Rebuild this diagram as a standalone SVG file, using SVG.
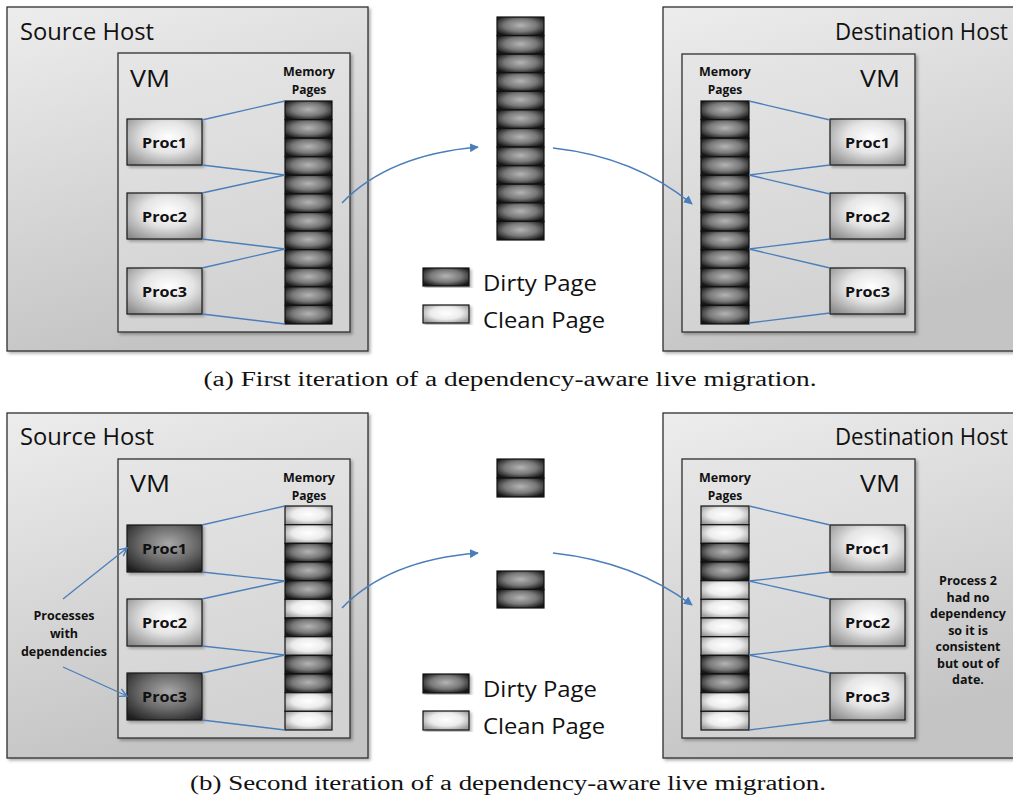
<svg xmlns="http://www.w3.org/2000/svg" width="1013" height="800" viewBox="0 0 1013 800">
<defs>
  <linearGradient id="gHost" x1="0" y1="0" x2="0.3" y2="1">
    <stop offset="0" stop-color="#ededed"/>
    <stop offset="1" stop-color="#c4c4c4"/>
  </linearGradient>
  <linearGradient id="gVm" x1="0" y1="0" x2="0.2" y2="1">
    <stop offset="0" stop-color="#e6e6e6"/>
    <stop offset="1" stop-color="#d2d2d2"/>
  </linearGradient>
  <radialGradient id="gProcL" cx="0.55" cy="0.4" r="0.75">
    <stop offset="0" stop-color="#ffffff"/>
    <stop offset="0.45" stop-color="#e4e4e4"/>
    <stop offset="1" stop-color="#8a8a8a"/>
  </radialGradient>
  <radialGradient id="gProcD" cx="0.55" cy="0.4" r="0.75">
    <stop offset="0" stop-color="#a8a8a8"/>
    <stop offset="0.5" stop-color="#6a6a6a"/>
    <stop offset="1" stop-color="#1c1c1c"/>
  </radialGradient>
  <radialGradient id="gDirty" cx="0.5" cy="0.45" r="0.62">
    <stop offset="0" stop-color="#b4b4b4"/>
    <stop offset="0.55" stop-color="#787878"/>
    <stop offset="1" stop-color="#161616"/>
  </radialGradient>
  <radialGradient id="gClean" cx="0.5" cy="0.45" r="0.62">
    <stop offset="0" stop-color="#ffffff"/>
    <stop offset="0.55" stop-color="#ececec"/>
    <stop offset="1" stop-color="#9c9c9c"/>
  </radialGradient>
  <filter id="sh" x="-5%" y="-5%" width="115%" height="115%">
    <feDropShadow dx="2" dy="2" stdDeviation="1.5" flood-color="#000" flood-opacity="0.3"/>
  </filter>
  <marker id="aFill" viewBox="0 0 10 10" refX="9" refY="5" markerWidth="9" markerHeight="9" markerUnits="userSpaceOnUse" orient="auto">
    <path d="M0,0 L10,5 L0,10 Z" fill="#4a7ebb"/>
  </marker>
  <marker id="aOpen" viewBox="0 0 10 10" refX="9" refY="5" markerWidth="10" markerHeight="10" markerUnits="userSpaceOnUse" orient="auto">
    <path d="M1,1 L9,5 L1,9" fill="none" stroke="#4a7ebb" stroke-width="1.4"/>
  </marker>
</defs>
<style>
  .host{fill:url(#gHost);stroke:#2e2e2e;stroke-width:1.3;filter:url(#sh)}
  .vm{fill:url(#gVm);stroke:#2e2e2e;stroke-width:1.3;filter:url(#sh)}
  .pl{fill:url(#gProcL);stroke:#1a1a1a;stroke-width:1.2;filter:url(#sh)}
  .pd{fill:url(#gProcD);stroke:#1a1a1a;stroke-width:1.2;filter:url(#sh)}
  .d{fill:url(#gDirty);stroke:#111;stroke-width:1.2}
  .c{fill:url(#gClean);stroke:#111;stroke-width:1.2}
  .htxt{font-family:'Open Sans','Liberation Sans',sans-serif;font-size:24px;fill:#111}
  .vmtxt{font-family:'Open Sans','Liberation Sans',sans-serif;font-size:23px;fill:#111}
  .mem{font-family:'Open Sans','Liberation Sans',sans-serif;font-size:12px;font-weight:bold;fill:#111;text-anchor:middle}
  .ptxt{font-family:'Open Sans','Liberation Sans',sans-serif;font-size:15px;font-weight:bold;fill:#111;text-anchor:middle}
  .lg{font-family:'Open Sans','Liberation Sans',sans-serif;font-size:22px;fill:#111}
  .dep{font-family:'Open Sans','Liberation Sans',sans-serif;font-size:12.5px;font-weight:bold;fill:#111;text-anchor:middle}
  .note{font-family:'Open Sans','Liberation Sans',sans-serif;font-size:12.5px;font-weight:bold;fill:#111;text-anchor:middle}
  .cap{font-family:'Liberation Serif','DejaVu Serif',serif;font-size:20px;fill:#111;text-anchor:middle}
  .ln{stroke:#4a7ebb;stroke-width:1.3;fill:none}
  .arr{stroke:#4a7ebb;stroke-width:1.5;fill:none;marker-end:url(#aFill)}
  .arrO{stroke:#4a7ebb;stroke-width:1.3;fill:none;marker-end:url(#aOpen)}
</style>

<!-- ===== Panel (a) ===== -->
<g id="a-source-host">
  <rect class="host" x="7" y="7" width="361" height="344"/>
  <text class="htxt" x="20" y="40" textLength="134" lengthAdjust="spacingAndGlyphs">Source Host</text>
</g>
<g id="a-source-vm">
  <rect class="vm" x="118" y="53" width="232" height="279"/>
  <text class="vmtxt" x="130" y="87" textLength="40" lengthAdjust="spacingAndGlyphs">VM</text>
  <text class="mem" x="309" y="76" textLength="52" lengthAdjust="spacingAndGlyphs">Memory</text>
  <text class="mem" x="309" y="94">Pages</text>
</g>
<g id="a-source-pages">
  <rect class="d" x="285" y="101" width="47" height="18.6"/>
  <rect class="d" x="285" y="119.6" width="47" height="18.6"/>
  <rect class="d" x="285" y="138.2" width="47" height="18.6"/>
  <rect class="d" x="285" y="156.7" width="47" height="18.6"/>
  <rect class="d" x="285" y="175.3" width="47" height="18.6"/>
  <rect class="d" x="285" y="193.9" width="47" height="18.6"/>
  <rect class="d" x="285" y="212.5" width="47" height="18.6"/>
  <rect class="d" x="285" y="231.1" width="47" height="18.6"/>
  <rect class="d" x="285" y="249.7" width="47" height="18.6"/>
  <rect class="d" x="285" y="268.2" width="47" height="18.6"/>
  <rect class="d" x="285" y="286.8" width="47" height="18.6"/>
  <rect class="d" x="285" y="305.4" width="47" height="18.6"/>
</g>
<g id="a-src-proc1"><rect class="pl" x="127" y="119" width="75" height="46"/><text class="ptxt" x="164.5" y="147.5" textLength="45" lengthAdjust="spacingAndGlyphs">Proc1</text></g>
<g id="a-src-proc2"><rect class="pl" x="127" y="193" width="75" height="46"/><text class="ptxt" x="164.5" y="221.5" textLength="45" lengthAdjust="spacingAndGlyphs">Proc2</text></g>
<g id="a-src-proc3"><rect class="pl" x="127" y="268" width="75" height="46"/><text class="ptxt" x="164.5" y="296.5" textLength="45" lengthAdjust="spacingAndGlyphs">Proc3</text></g>

<g id="a-transit-pages">
  <rect class="d" x="497" y="17" width="47" height="18.6"/>
  <rect class="d" x="497" y="35.6" width="47" height="18.6"/>
  <rect class="d" x="497" y="54.2" width="47" height="18.6"/>
  <rect class="d" x="497" y="72.7" width="47" height="18.6"/>
  <rect class="d" x="497" y="91.3" width="47" height="18.6"/>
  <rect class="d" x="497" y="109.9" width="47" height="18.6"/>
  <rect class="d" x="497" y="128.5" width="47" height="18.6"/>
  <rect class="d" x="497" y="147.1" width="47" height="18.6"/>
  <rect class="d" x="497" y="165.7" width="47" height="18.6"/>
  <rect class="d" x="497" y="184.2" width="47" height="18.6"/>
  <rect class="d" x="497" y="202.8" width="47" height="18.6"/>
  <rect class="d" x="497" y="221.4" width="47" height="18.6"/>
</g>
<g id="a-legend">
  <rect class="d" x="423" y="268" width="46" height="18" filter="url(#sh)"/>
  <text class="lg" x="483" y="291" textLength="114" lengthAdjust="spacingAndGlyphs">Dirty Page</text>
  <rect class="c" x="423" y="305" width="46" height="18" filter="url(#sh)"/>
  <text class="lg" x="483" y="328" textLength="122" lengthAdjust="spacingAndGlyphs">Clean Page</text>
</g>

<g id="a-dest-host">
  <rect class="host" x="663" y="7" width="360" height="344"/>
  <text class="htxt" x="1008" y="40" text-anchor="end" textLength="173" lengthAdjust="spacingAndGlyphs">Destination Host</text>
</g>
<g id="a-dest-vm">
  <rect class="vm" x="682" y="54" width="233" height="278"/>
  <text class="vmtxt" x="900" y="87" text-anchor="end" textLength="40" lengthAdjust="spacingAndGlyphs">VM</text>
  <text class="mem" x="725" y="76" textLength="52" lengthAdjust="spacingAndGlyphs">Memory</text>
  <text class="mem" x="725" y="94">Pages</text>
</g>
<g id="a-dest-pages">
  <rect class="d" x="701" y="101" width="48" height="18.6"/>
  <rect class="d" x="701" y="119.6" width="48" height="18.6"/>
  <rect class="d" x="701" y="138.2" width="48" height="18.6"/>
  <rect class="d" x="701" y="156.7" width="48" height="18.6"/>
  <rect class="d" x="701" y="175.3" width="48" height="18.6"/>
  <rect class="d" x="701" y="193.9" width="48" height="18.6"/>
  <rect class="d" x="701" y="212.5" width="48" height="18.6"/>
  <rect class="d" x="701" y="231.1" width="48" height="18.6"/>
  <rect class="d" x="701" y="249.7" width="48" height="18.6"/>
  <rect class="d" x="701" y="268.2" width="48" height="18.6"/>
  <rect class="d" x="701" y="286.8" width="48" height="18.6"/>
  <rect class="d" x="701" y="305.4" width="48" height="18.6"/>
</g>
<g id="a-dst-proc1"><rect class="pl" x="830" y="119" width="75" height="46"/><text class="ptxt" x="867.5" y="147.5" textLength="45" lengthAdjust="spacingAndGlyphs">Proc1</text></g>
<g id="a-dst-proc2"><rect class="pl" x="830" y="193" width="75" height="46"/><text class="ptxt" x="867.5" y="221.5" textLength="45" lengthAdjust="spacingAndGlyphs">Proc2</text></g>
<g id="a-dst-proc3"><rect class="pl" x="830" y="268" width="75" height="46"/><text class="ptxt" x="867.5" y="296.5" textLength="45" lengthAdjust="spacingAndGlyphs">Proc3</text></g>

<text id="caption-a" class="cap" x="510" y="386" textLength="613" lengthAdjust="spacingAndGlyphs">(a) First iteration of a dependency-aware live migration.</text>

<!-- ===== Panel (b) ===== -->
<g id="b-source-host">
  <rect class="host" x="7" y="413" width="361" height="345"/>
  <text class="htxt" x="20" y="445" textLength="134" lengthAdjust="spacingAndGlyphs">Source Host</text>
</g>
<g id="b-source-vm">
  <rect class="vm" x="118" y="459" width="232" height="279"/>
  <text class="vmtxt" x="130" y="492" textLength="40" lengthAdjust="spacingAndGlyphs">VM</text>
  <text class="mem" x="309" y="482" textLength="52" lengthAdjust="spacingAndGlyphs">Memory</text>
  <text class="mem" x="309" y="500">Pages</text>
</g>
<g id="b-source-pages">
  <rect class="c" x="285" y="506" width="47" height="18.7"/>
  <rect class="c" x="285" y="524.7" width="47" height="18.7"/>
  <rect class="d" x="285" y="543.3" width="47" height="18.7"/>
  <rect class="d" x="285" y="562" width="47" height="18.7"/>
  <rect class="d" x="285" y="580.7" width="47" height="18.7"/>
  <rect class="c" x="285" y="599.3" width="47" height="18.7"/>
  <rect class="d" x="285" y="618" width="47" height="18.7"/>
  <rect class="c" x="285" y="636.7" width="47" height="18.7"/>
  <rect class="d" x="285" y="655.3" width="47" height="18.7"/>
  <rect class="d" x="285" y="674" width="47" height="18.7"/>
  <rect class="c" x="285" y="692.7" width="47" height="18.7"/>
  <rect class="c" x="285" y="711.3" width="47" height="18.7"/>
</g>
<g id="b-src-proc1"><rect class="pd" x="127" y="525" width="75" height="47"/><text class="ptxt" x="164.5" y="554" textLength="45" lengthAdjust="spacingAndGlyphs">Proc1</text></g>
<g id="b-src-proc2"><rect class="pl" x="127" y="599" width="75" height="47"/><text class="ptxt" x="164.5" y="628" textLength="45" lengthAdjust="spacingAndGlyphs">Proc2</text></g>
<g id="b-src-proc3"><rect class="pd" x="127" y="673" width="75" height="47"/><text class="ptxt" x="164.5" y="702" textLength="45" lengthAdjust="spacingAndGlyphs">Proc3</text></g>
<g id="b-deps-label">
  <text class="dep" x="64" y="620">Processes</text>
  <text class="dep" x="64" y="638">with</text>
  <text class="dep" x="64" y="656">dependencies</text>
</g>

<g id="b-transit-pages">
  <rect class="d" x="497" y="459" width="47" height="19"/>
  <rect class="d" x="497" y="478" width="47" height="19"/>
  <rect class="d" x="497" y="571" width="47" height="18.5"/>
  <rect class="d" x="497" y="589.5" width="47" height="18.5"/>
</g>
<g id="b-legend">
  <rect class="d" x="423" y="674" width="46" height="19" filter="url(#sh)"/>
  <text class="lg" x="483" y="697" textLength="114" lengthAdjust="spacingAndGlyphs">Dirty Page</text>
  <rect class="c" x="423" y="711" width="46" height="19" filter="url(#sh)"/>
  <text class="lg" x="483" y="734" textLength="122" lengthAdjust="spacingAndGlyphs">Clean Page</text>
</g>

<g id="b-dest-host">
  <rect class="host" x="663" y="413" width="360" height="345"/>
  <text class="htxt" x="1008" y="445" text-anchor="end" textLength="173" lengthAdjust="spacingAndGlyphs">Destination Host</text>
</g>
<g id="b-dest-vm">
  <rect class="vm" x="682" y="459" width="233" height="279"/>
  <text class="vmtxt" x="900" y="492" text-anchor="end" textLength="40" lengthAdjust="spacingAndGlyphs">VM</text>
  <text class="mem" x="725" y="482" textLength="52" lengthAdjust="spacingAndGlyphs">Memory</text>
  <text class="mem" x="725" y="500">Pages</text>
</g>
<g id="b-dest-pages">
  <rect class="c" x="701" y="506" width="48" height="18.7"/>
  <rect class="c" x="701" y="524.7" width="48" height="18.7"/>
  <rect class="d" x="701" y="543.3" width="48" height="18.7"/>
  <rect class="d" x="701" y="562" width="48" height="18.7"/>
  <rect class="c" x="701" y="580.7" width="48" height="18.7"/>
  <rect class="c" x="701" y="599.3" width="48" height="18.7"/>
  <rect class="c" x="701" y="618" width="48" height="18.7"/>
  <rect class="c" x="701" y="636.7" width="48" height="18.7"/>
  <rect class="d" x="701" y="655.3" width="48" height="18.7"/>
  <rect class="d" x="701" y="674" width="48" height="18.7"/>
  <rect class="c" x="701" y="692.7" width="48" height="18.7"/>
  <rect class="c" x="701" y="711.3" width="48" height="18.7"/>
</g>
<g id="b-dst-proc1"><rect class="pl" x="830" y="525" width="75" height="47"/><text class="ptxt" x="867.5" y="554" textLength="45" lengthAdjust="spacingAndGlyphs">Proc1</text></g>
<g id="b-dst-proc2"><rect class="pl" x="830" y="599" width="75" height="47"/><text class="ptxt" x="867.5" y="628" textLength="45" lengthAdjust="spacingAndGlyphs">Proc2</text></g>
<g id="b-dst-proc3"><rect class="pl" x="830" y="673" width="75" height="47"/><text class="ptxt" x="867.5" y="702" textLength="45" lengthAdjust="spacingAndGlyphs">Proc3</text></g>
<g id="b-note">
  <text class="note" x="968" y="585">Process 2</text>
  <text class="note" x="968" y="601.5">had no</text>
  <text class="note" x="968" y="618">dependency</text>
  <text class="note" x="968" y="634.5">so it is</text>
  <text class="note" x="968" y="651">consistent</text>
  <text class="note" x="968" y="667.5">but out of</text>
  <text class="note" x="968" y="684">date.</text>
</g>

<text id="caption-b" class="cap" x="508" y="790" textLength="636" lengthAdjust="spacingAndGlyphs">(b) Second iteration of a dependency-aware live migration.</text>

<!-- ===== Connectors ===== -->
<g id="connectors">
  <line class="ln" x1="202" y1="120" x2="285" y2="101"/>
  <line class="ln" x1="202" y1="165" x2="285" y2="175"/>
  <line class="ln" x1="202" y1="193" x2="285" y2="175"/>
  <line class="ln" x1="202" y1="239" x2="285" y2="249"/>
  <line class="ln" x1="202" y1="268" x2="285" y2="249"/>
  <line class="ln" x1="202" y1="314" x2="285" y2="324"/>
  <line class="ln" x1="749" y1="101" x2="830" y2="120"/>
  <line class="ln" x1="749" y1="175" x2="830" y2="165"/>
  <line class="ln" x1="749" y1="175" x2="830" y2="194"/>
  <line class="ln" x1="749" y1="249" x2="830" y2="239"/>
  <line class="ln" x1="749" y1="249" x2="830" y2="268"/>
  <line class="ln" x1="749" y1="323" x2="830" y2="313"/>
  <path class="arr" d="M342,203 Q388,155 478,147"/>
  <path class="arr" d="M553,148 Q635,157 692,204"/>
  <line class="ln" x1="202" y1="525" x2="285" y2="506"/>
  <line class="ln" x1="202" y1="572" x2="285" y2="581"/>
  <line class="ln" x1="202" y1="599" x2="285" y2="581"/>
  <line class="ln" x1="202" y1="646" x2="285" y2="655"/>
  <line class="ln" x1="202" y1="673" x2="285" y2="655"/>
  <line class="ln" x1="202" y1="720" x2="285" y2="730"/>
  <line class="ln" x1="749" y1="506" x2="830" y2="525"/>
  <line class="ln" x1="749" y1="581" x2="830" y2="572"/>
  <line class="ln" x1="749" y1="581" x2="830" y2="599"/>
  <line class="ln" x1="749" y1="655" x2="830" y2="646"/>
  <line class="ln" x1="749" y1="655" x2="830" y2="673"/>
  <line class="ln" x1="749" y1="730" x2="830" y2="720"/>
  <line class="arrO" x1="63" y1="599" x2="127" y2="548"/>
  <line class="arrO" x1="63" y1="667" x2="127" y2="696"/>
  <path class="arr" d="M342,608 Q388,560 478,553"/>
  <path class="arr" d="M553,553 Q635,562 692,605"/>
</g>
</svg>
